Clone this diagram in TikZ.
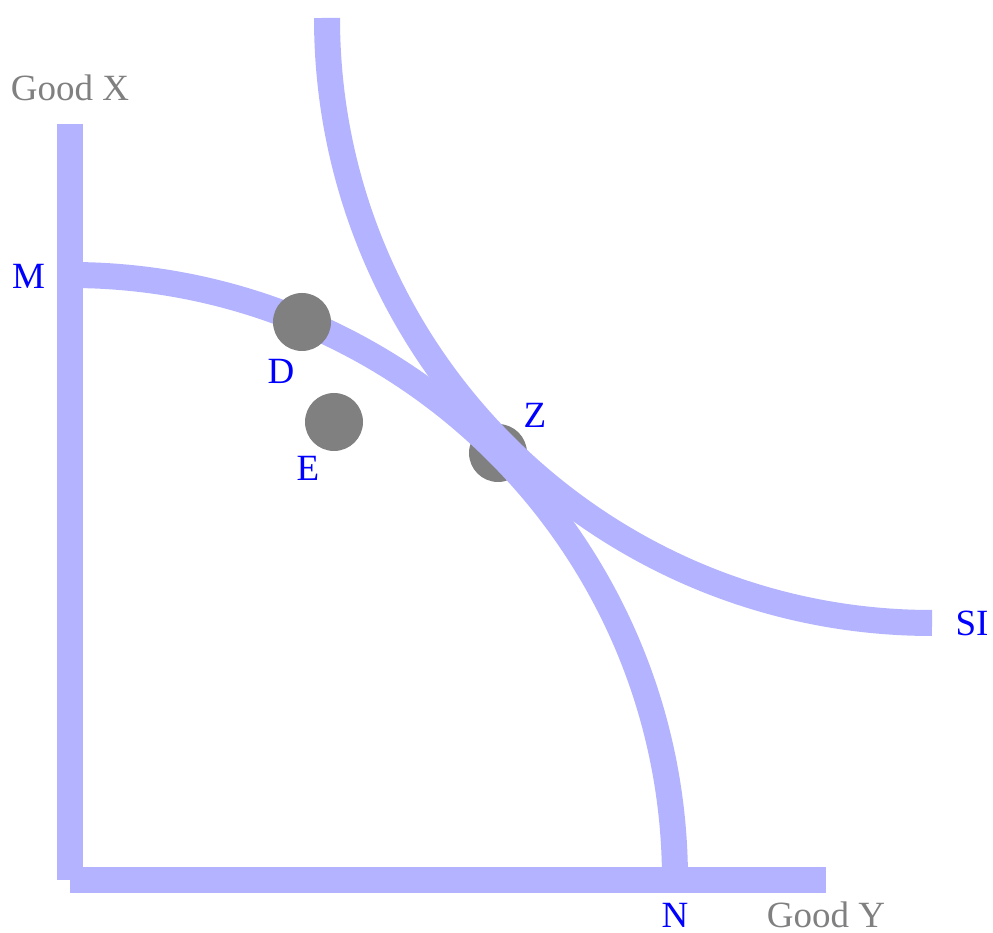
\documentclass[tikz,border=0pt]{standalone}
\usepackage{fontspec}
\setmainfont{Liberation Serif}
\begin{document}
\begin{tikzpicture}[x=1pt,y=1pt,
  band/.style={line width=26pt,draw={rgb,255:red,179;green,179;blue,255},line cap=butt},
  dot/.style={circle,fill={rgb,255:red,128;green,128;blue,128},minimum size=58pt,inner sep=0pt},
  lab/.style={text=blue,font=\fontsize{37}{40}\selectfont,inner sep=0pt,text height=24.5pt,text depth=0pt},
  axlab/.style={text={rgb,255:red,128;green,128;blue,128},font=\fontsize{37}{40}\selectfont,inner sep=0pt,text height=24.5pt,text depth=0pt}]
\useasboundingbox (0,0) rectangle (993,933);
% axes
\coordinate (top) at (70,809);
\coordinate (O) at (70,53);
\coordinate (right) at (826,53);
\draw[band] (top) -- (O);
\draw[band] (O) -- (right);
% point Z (drawn below the curves)
\node[dot] (Zd) at (498,480) {};
% production possibility frontier
\coordinate (Mp) at (70,658);
\coordinate (Np) at (675,53);
\draw[band] (Mp) arc[start angle=90,end angle=0,radius=605pt];
% social indifference curve
\coordinate (ICtop) at (327,915);
\coordinate (SIp) at (932,310);
\draw[band] (ICtop) arc[start angle=180,end angle=270,radius=605pt];
% points D, E
\node[dot] (Dd) at (302,611) {};
\node[dot] (Ed) at (334,511) {};
% labels
\node[axlab] (gx) at (70,845) {Good X};
\node[axlab] (gy) at (826,18) {Good Y};
\node[lab] (Ml) at (28.5,657) {M};
\node[lab] (Nl) at (675,18) {N};
\node[lab] (SIl) at (972,310) {SI};
\node[lab] (Dl) at (281,562) {D};
\node[lab] (El) at (308,465) {E};
\node[lab] (Zl) at (535,518) {Z};
\end{tikzpicture}
\end{document}
